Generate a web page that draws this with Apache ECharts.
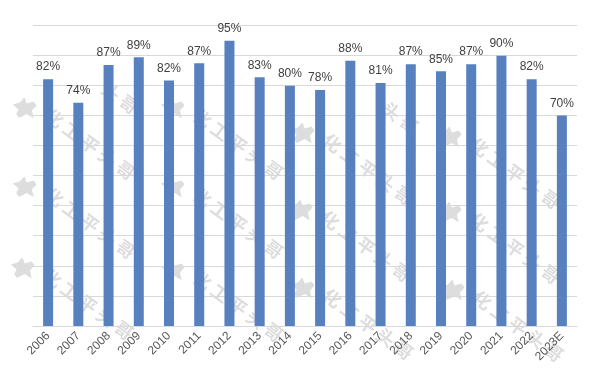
<!DOCTYPE html>
<html>
<head>
<meta charset="utf-8">
<script src="https://cdn.jsdelivr.net/npm/echarts@6/dist/echarts.min.js"></script>
<style>
  html, body { margin: 0; padding: 0; background: #ffffff; }
  #chart { width: 605px; height: 382px; }
</style>
</head>
<body>
<div id="chart"></div>
<script>
// ---- data ----
var categories = ['2006','2007','2008','2009','2010','2011','2012','2013','2014','2015','2016','2017','2018','2019','2020','2021','2022','2023E'];
var values = [82.0, 74.2, 86.7, 89.3, 81.6, 87.3, 94.8, 82.6, 79.8, 78.4, 88.1, 80.7, 87.0, 84.6, 87.0, 89.8, 82.0, 69.9];
var yTicks = [0, 10, 20, 30, 40, 50, 60, 70, 80, 90, 100];

// ---- watermark (decoration) ----
var wmText = '化 工 平 头 哥';
var wmAnchors = [[55,118],[55,197],[53,278],[203,118],[203,197],[203,280],
                 [333,143],[331,220],[333,298],[480,147],[480,222],[483,300]];
var wmRot = -36 * Math.PI / 180;
var wmColor = '#dddddd';
var logoPts = [[-12,-1],[-6,-5],[-3,-11],[1,-6],[7,-10],[11,-7],[8,-1],[12,6],[4,4],[-2,10],[-6,7],[-5,2]];
var graphics = [];
wmAnchors.forEach(function (a) {
  var cx = a[0], cy = a[1];
  graphics.push({
    type: 'text', silent: true, z: 0,
    x: cx - 8, y: cy - 5, rotation: wmRot,
    style: { text: wmText, fill: wmColor, font: 'bold 18px "Noto Sans CJK SC"', textAlign: 'left', textVerticalAlign: 'middle' }
  });
  graphics.push({
    type: 'polygon', silent: true, z: 0,
    x: cx - 31, y: cy - 9, rotation: -0.3,
    shape: { points: logoPts },
    style: { fill: wmColor }
  });
});
// partial fragments near top
[[104,86],[384,106]].forEach(function (p) {
  graphics.push({
    type: 'text', silent: true, z: 0,
    x: p[0], y: p[1], rotation: wmRot,
    style: { text: '头 哥', fill: wmColor, font: 'bold 18px "Noto Sans CJK SC"', textAlign: 'left', textVerticalAlign: 'middle' }
  });
});

var chart = echarts.init(document.getElementById('chart'), null, { renderer: 'canvas' });
chart.setOption({
  animation: false,
  backgroundColor: '#ffffff',
  graphic: graphics,
  grid: { left: 33, right: 28, top: 25, bottom: 56, containLabel: false },
  xAxis: {
    type: 'category',
    data: categories,
    axisTick: { show: false },
    axisLine: { lineStyle: { color: '#d9d9d9', width: 1 } },
    axisLabel: { rotate: 45, margin: 8, color: '#595959', fontSize: 12, fontFamily: 'Liberation Sans', interval: 0 }
  },
  yAxis: {
    type: 'value',
    min: yTicks[0], max: yTicks[yTicks.length - 1], interval: yTicks[1] - yTicks[0],
    axisLabel: { show: false },
    axisLine: { show: false },
    axisTick: { show: false },
    splitLine: { lineStyle: { color: '#d9d9d9', width: 1 } }
  },
  series: [{
    type: 'bar',
    data: values,
    barWidth: 10,
    z: 2,
    itemStyle: { color: '#5680BE' },
    label: {
      show: true, position: 'top', distance: 6,
      color: '#404040', fontSize: 12, fontFamily: 'Liberation Sans',
      formatter: function (p) { return Math.round(p.value) + '%'; }
    }
  }]
});
</script>
</body>
</html>
